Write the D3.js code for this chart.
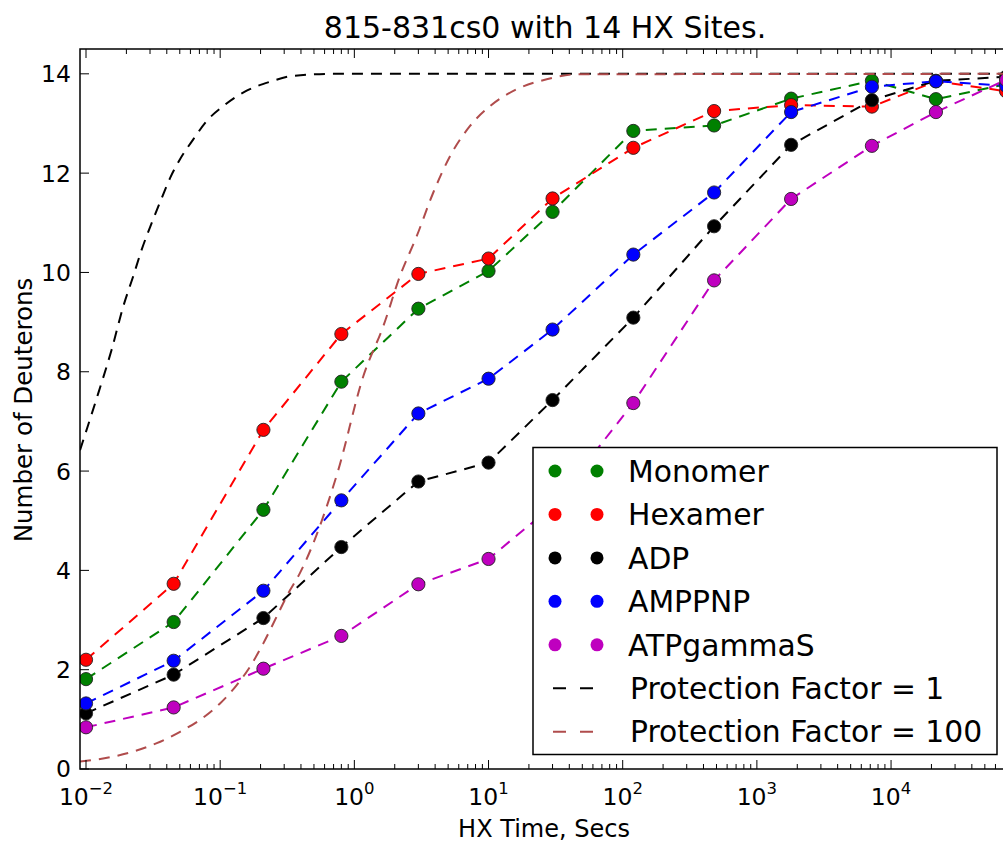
<!DOCTYPE html>
<html>
<head>
<meta charset="utf-8">
<script src="https://cdn.jsdelivr.net/npm/d3@7"></script>
<style>
  html, body { margin: 0; padding: 0; background: #fff; }
  svg { display: block; font-family: "DejaVu Sans", sans-serif; }
</style>
</head>
<body>
<svg id="chart" width="1003" height="843"></svg>
<script>
// HX times (s) and deuteron counts
var times = [0.01, 0.045, 0.21, 0.8, 3, 10, 30, 120, 480, 1800, 7200, 21600, 72000];
var monomer = [1.81, 2.96, 5.22, 7.80, 9.27, 10.03, 11.22, 12.85, 12.96, 13.50, 13.86, 13.49, 13.79];
var hexamer = [2.20, 3.73, 6.83, 8.76, 9.97, 10.28, 11.49, 12.51, 13.25, 13.37, 13.34, 13.85, 13.65];
var adp = [1.12, 1.90, 3.04, 4.47, 5.79, 6.17, 7.43, 9.09, 10.93, 12.57, 13.47, 13.86, 13.94];
var amppnp = [1.32, 2.18, 3.59, 5.41, 7.16, 7.86, 8.85, 10.36, 11.61, 13.23, 13.74, 13.85, 13.76];
var atpgs = [0.84, 1.24, 2.02, 2.68, 3.72, 4.23, 5.30, 7.37, 9.84, 11.48, 12.55, 13.23, 13.88];

// theoretical curves, points
var pf1Times = [0.00902, 0.0101, 0.01235, 0.01554, 0.01897, 0.02252, 0.026, 0.0309, 0.0367, 0.0423,
  0.0502, 0.063, 0.0793, 0.1055, 0.1576, 0.235, 0.351, 0.693, 79700];
var pf1Vals = [6.42, 6.83, 7.57, 8.45, 9.32, 9.93, 10.46, 11.0, 11.5, 11.9,
  12.28, 12.68, 13.05, 13.35, 13.66, 13.84, 13.96, 14.0, 14.0];
var pf100Times = [0.00902, 0.016, 0.0225, 0.0337, 0.0502, 0.0707, 0.0997, 0.1328, 0.1668, 0.2097,
  0.2638, 0.322, 0.3936, 0.755, 1.166, 1.644, 2.19, 2.916, 3.877, 5.164, 7.28, 10.26, 16.23,
  27.15, 45.4, 79700];
var pf100Vals = [0.15, 0.25, 0.35, 0.52, 0.75, 0.99, 1.32, 1.69, 2.06, 2.53,
  3.07, 3.54, 3.95, 6.0, 7.91, 8.92, 9.93, 10.73, 11.61, 12.34, 12.95, 13.35, 13.69,
  13.89, 13.99, 14.0];

var seriesNames = ["Monomer", "Hexamer", "ADP", "AMPPNP", "ATPgammaS"];
var seriesVals = [monomer, hexamer, adp, amppnp, atpgs];
var seriesColors = ["#008000", "#ff0000", "#000000", "#0000ff", "#bf00bf"];
var yTicks = [0, 2, 4, 6, 8, 10, 12, 14];
var xMajor = [-2, -1, 0, 1, 2, 3, 4];

var svg = d3.select("#chart");
var mLeft = 80, mRight = 1012, mTop = 49, mBottom = 769;

var x = d3.scaleLog().domain([0.00902, 79700]).range([mLeft, mRight]);
var y = d3.scaleLinear().domain([0, 14.5]).range([mBottom, mTop]);

svg.append("clipPath").attr("id", "plotclip")
  .append("rect").attr("x", mLeft).attr("y", mTop)
  .attr("width", mRight - mLeft).attr("height", mBottom - mTop);

var plot = svg.append("g").attr("clip-path", "url(#plotclip)");

var line = d3.line()
  .x(function(d) { return x(d[0]); })
  .y(function(d) { return y(d[1]); });
var smooth = d3.line()
  .x(function(d) { return x(d[0]); })
  .y(function(d) { return y(d[1]); })
  .curve(d3.curveMonotoneX);

// data lines
seriesVals.forEach(function(vals, i) {
  plot.append("path")
    .datum(times.map(function(t, j) { return [t, vals[j]]; }))
    .attr("d", line)
    .attr("fill", "none")
    .attr("stroke", seriesColors[i])
    .attr("stroke-width", 2)
    .attr("stroke-dasharray", "11,8");
});

// markers
seriesVals.forEach(function(vals, i) {
  plot.append("g").selectAll("circle")
    .data(times.map(function(t, j) { return [t, vals[j]]; }))
    .enter().append("circle")
    .attr("cx", function(d) { return x(d[0]); })
    .attr("cy", function(d) { return y(d[1]); })
    .attr("r", 6.6)
    .attr("fill", seriesColors[i])
    .attr("stroke", "#222")
    .attr("stroke-width", 0.9);
});

// protection factor curves
plot.append("path")
  .datum(pf1Times.map(function(t, j) { return [t, pf1Vals[j]]; }))
  .attr("d", smooth)
  .attr("fill", "none")
  .attr("stroke", "#000")
  .attr("stroke-width", 2)
  .attr("stroke-dasharray", "11,8");
plot.append("path")
  .datum(pf100Times.map(function(t, j) { return [t, pf100Vals[j]]; }))
  .attr("d", smooth)
  .attr("fill", "none")
  .attr("stroke", "#b04c4c")
  .attr("stroke-width", 2)
  .attr("stroke-dasharray", "11,8");

// frame
svg.append("rect")
  .attr("x", mLeft).attr("y", mTop)
  .attr("width", mRight - mLeft).attr("height", mBottom - mTop)
  .attr("fill", "none").attr("stroke", "#000").attr("stroke-width", 1.5);

// ticks, pointing inward on all sides
var ticks = svg.append("g").attr("stroke", "#000").attr("stroke-width", 1);
x.ticks().forEach(function(t) {
  var lg = Math.log10(t);
  var major = Math.abs(lg - Math.round(lg)) < 1e-9;
  var len = major ? 9 : 5;
  var px = x(t);
  ticks.append("line").attr("x1", px).attr("x2", px).attr("y1", mBottom).attr("y2", mBottom - len);
  ticks.append("line").attr("x1", px).attr("x2", px).attr("y1", mTop).attr("y2", mTop + len);
});
yTicks.forEach(function(v) {
  ticks.append("line").attr("x1", mLeft).attr("x2", mLeft + 9).attr("y1", y(v)).attr("y2", y(v));
  ticks.append("line").attr("x1", mRight).attr("x2", mRight - 9).attr("y1", y(v)).attr("y2", y(v));
});

// tick labels
svg.append("g").selectAll("text")
  .data(yTicks).enter().append("text")
  .attr("x", 71)
  .attr("y", function(d) { return y(d); })
  .attr("dy", "0.36em")
  .attr("text-anchor", "end")
  .attr("font-size", 23.5)
  .attr("fill", "#000")
  .text(function(d) { return d; });

var xl = svg.append("g").selectAll("text")
  .data(xMajor).enter().append("text")
  .attr("x", function(d) { return x(Math.pow(10, d)); })
  .attr("y", 805)
  .attr("text-anchor", "middle")
  .attr("font-size", 23.5)
  .attr("fill", "#000");
xl.append("tspan").text("10");
xl.append("tspan")
  .attr("dy", -11)
  .attr("font-size", 16.5)
  .text(function(d) { return d < 0 ? "\u2212" + (-d) : d; });

// title and axis labels
svg.append("text")
  .attr("x", (mLeft + mRight) / 2 - 1).attr("y", 38)
  .attr("text-anchor", "middle").attr("font-size", 30)
  .text("815-831cs0 with 14 HX Sites.");
svg.append("text")
  .attr("x", 544).attr("y", 837)
  .attr("text-anchor", "middle").attr("font-size", 24)
  .text("HX Time, Secs");
svg.append("text")
  .attr("transform", "translate(32,410) rotate(-90)")
  .attr("text-anchor", "middle").attr("font-size", 24.5)
  .text("Number of Deuterons");

// legend
var lg = svg.append("g");
lg.append("rect")
  .attr("x", 533).attr("y", 447.5).attr("width", 464).attr("height", 307)
  .attr("fill", "#fff").attr("stroke", "#000").attr("stroke-width", 1.5);
var rowY = function(i) { return 471 + i * 43.45; };
seriesNames.forEach(function(name, i) {
  [555, 597].forEach(function(cx) {
    lg.append("circle").attr("cx", cx).attr("cy", rowY(i)).attr("r", 6.5)
      .attr("fill", seriesColors[i]);
  });
  lg.append("text").attr("x", 628).attr("y", rowY(i)).attr("dy", "0.36em")
    .attr("font-size", 29.8).text(name);
});
[["Protection Factor = 1", "#000"], ["Protection Factor = 100", "#b04c4c"]].forEach(function(e, k) {
  var i = 5 + k;
  lg.append("line").attr("x1", 553).attr("x2", 593).attr("y1", rowY(i)).attr("y2", rowY(i))
    .attr("stroke", e[1]).attr("stroke-width", 2).attr("stroke-dasharray", "13,14");
  lg.append("text").attr("x", 630).attr("y", rowY(i)).attr("dy", "0.36em")
    .attr("font-size", 29.8).text(e[0]);
});
</script>
</body>
</html>
